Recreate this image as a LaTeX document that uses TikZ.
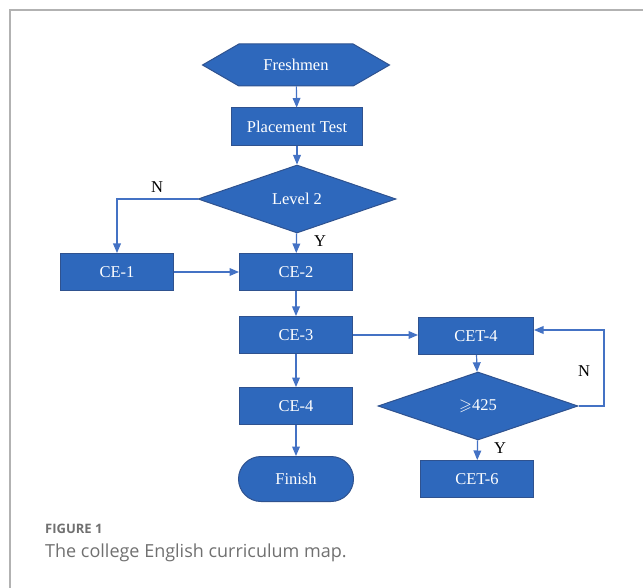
\documentclass[tikz,border=0pt]{standalone}
\usepackage{amssymb}
\usepackage{fontspec}
\setmainfont{Liberation Serif}
\newfontfamily\capfont{Open Sans}
\usepackage{tikz}
\usetikzlibrary{shapes}
\usetikzlibrary{arrows}
\definecolor{boxblue}{HTML}{2E68BC}
\definecolor{boxedge}{HTML}{2F528F}
\definecolor{linkblue}{HTML}{4472C4}
\definecolor{capgray}{HTML}{707070}
\tikzset{
	flownode/.style = {
		align=center,
		inner sep=0pt,
		text centered,
		white,
		font=\fontsize{16.5}{19}\selectfont,
		draw=boxedge,
		fill=boxblue,
		line width=1pt
	},
	node_rect/.style = {
		flownode,
		rectangle,
		minimum width=113pt,
		minimum height=37pt
	},
	node_hex/.style = {
		flownode,
		signal, signal from=nowhere, signal to=east and west,
		signal pointer angle=60,
		minimum width=187pt,
		minimum height=42pt
	},
	node_dec/.style = {
		flownode,
		diamond,
		minimum width=198pt,
		minimum height=68pt
	},
	node_end/.style = {
		flownode,
		rounded rectangle,
		minimum width=115pt,
		minimum height=45pt
	},
	node_lbl/.style = {
		black,
		inner sep=0pt,
		font=\fontsize{16.5}{19}\selectfont
	},
	link/.style = {
		->,
		>=triangle 45,
		draw=linkblue,
		line width=1.2pt
	}
}

\begin{document}
\begin{tikzpicture}[x=1pt,y=-1pt]
\useasboundingbox (0,0) rectangle (643,588);
% frame
\draw[gray!60, line width=1.5pt] (10,588) -- (10,10) -- (643,10);

% left column
\node [node_hex] (fresh) at (296,65) {Freshmen};
\node [node_rect, minimum width=131pt, minimum height=38pt] (place) at (297,127) {Placement Test};
\node [node_dec] (lvl2) at (297,199) {Level 2};
\node [node_rect] (ce1) at (117,272) {CE-1};
\node [node_rect] (ce2) at (296,272) {CE-2};
\node [node_rect] (ce3) at (296,335) {CE-3};
\node [node_rect] (ce4) at (296,406) {CE-4};
\node [node_end] (finish) at (296,479) {Finish};

% right column
\node [node_rect, minimum width=115pt] (cet4) at (476,336) {CET-4};
\node [node_dec, minimum width=200pt] (pass) at (478,406) {$\geqslant$425};
\node [node_rect] (cet6) at (477,479) {CET-6};
\coordinate (loop) at (604,406);

% connectors
\draw [link] (fresh) -- (place);
\draw [link] (place) -- (lvl2);
\draw [link] (lvl2.west) -| (ce1.north);
\draw [link] (lvl2) -- (ce2);
\draw [link] (ce1) -- (ce2);
\draw [link] (ce2) -- (ce3);
\draw [link] (ce3) -- (cet4.west |- ce3);
\draw [link] (ce3) -- (ce4);
\draw [link] (ce4) -- (finish);
\draw [link] (cet4) -- (pass);
\draw [link] (pass.east) -- (loop) |- ([yshift=6pt]cet4.east);
\draw [link] (pass) -- (cet6);

% branch labels
\node [node_lbl] (n1) at (157,187) {N};
\node [node_lbl] (y1) at (320,241) {Y};
\node [node_lbl] (n2) at (584,371) {N};
\node [node_lbl] (y2) at (500,448) {Y};

% caption
\node [anchor=west, inner sep=0pt, capgray, font=\capfont\fontsize{13}{15}\selectfont\bfseries] (fig) at (45,529) {FIGURE 1};
\node [anchor=west, inner sep=0pt, capgray, font=\capfont\fontsize{18}{21}\selectfont] (cap) at (45,553) {The college English curriculum map.};
\end{tikzpicture}
\end{document}
